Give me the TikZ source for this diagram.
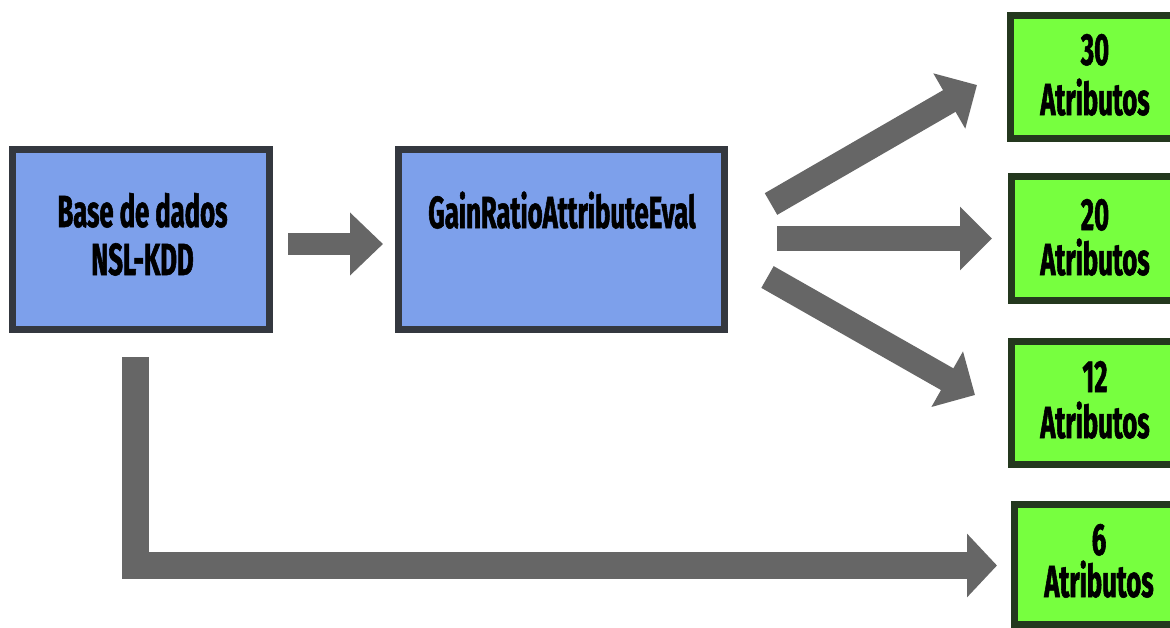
\documentclass[tikz,border=0pt]{standalone}
\usepackage{fontspec}
\usetikzlibrary{arrows.meta}
\newfontfamily\lblfont[FakeStretch=0.57,FakeBold=1.2]{Fira Sans Bold}
\definecolor{boxblue}{HTML}{7DA0EB}
\definecolor{boxgreen}{HTML}{77FF3F}
\definecolor{edgeblue}{HTML}{34383F}
\definecolor{edgegreen}{HTML}{24381E}
\definecolor{arrowgray}{HTML}{666666}
\begin{document}
\begin{tikzpicture}[x=1pt,y=-1pt,
  stage/.style={draw=edgeblue,fill=boxblue,line width=7pt},
  result/.style={draw=edgegreen,fill=boxgreen,line width=7pt},
  txt/.style={font=\lblfont\fontsize{45}{52}\selectfont,anchor=base,inner sep=0pt},
  flow/.style={draw=arrowgray,line width=25pt,line cap=butt,line join=miter,
    -{Triangle[width=62pt,length=32pt]}}]
\useasboundingbox (0,0) rectangle (1170,627);
\clip (0,0) rectangle (1170,627);

% processing stages
\path[stage] (12.5,149.5) rectangle (269.5,329.5);
\path[stage] (398.5,149.5) rectangle (724.5,329.5);
\node[txt] (db1) at (142.5,227) {Base de dados};
\node[txt] (db2) at (142.5,275) {NSL-KDD};
\node[txt] (gr1) at (562,228) {GainRatioAttributeEval};

% attribute subsets
\path[result] (1010.5,15.5) rectangle (1185,138.5);
\path[result] (1011.5,176.5) rectangle (1185,300.5);
\path[result] (1011.5,341.5) rectangle (1185,464.5);
\path[result] (1014.5,504.5) rectangle (1185,624.5);
\node[txt] (s30) at (1095,65) {30};
\node[txt] (a30) at (1095,115) {Atributos};
\node[txt] (s20) at (1095,230) {20};
\node[txt] (a20) at (1095,275) {Atributos};
\node[txt] (s12) at (1095,392) {12};
\node[txt] (a12) at (1095,438) {Atributos};
\node[txt] (s6) at (1099,555) {6};
\node[txt] (a6) at (1099,597) {Atributos};

% connectors
\coordinate (p0) at (288,244);
\coordinate (p1) at (383,244);
\draw[flow,line width=22pt,-{Triangle[width=61pt,length=33pt]}] (p0) -- (p1);

\coordinate (q0) at (771,204);
\coordinate (q1) at (977,85);
\draw[flow] (q0) -- (q1);

\coordinate (r0) at (777,238.5);
\coordinate (r1) at (992,238.5);
\draw[flow] (r0) -- (r1);

\coordinate (u0) at (767.5,277);
\coordinate (u1) at (975,395);
\draw[flow] (u0) -- (u1);

\coordinate (v0) at (135.5,357);
\coordinate (v1) at (135.5,565.5);
\coordinate (v2) at (997,565.5);
\draw[flow,line width=27pt,-{Triangle[width=62pt,length=30pt]}] (v0) -- (v1) -- (v2);
\end{tikzpicture}
\end{document}
